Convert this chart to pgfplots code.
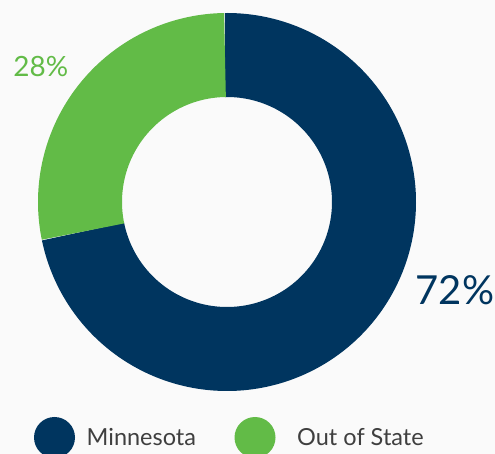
\documentclass[border=0pt]{standalone}
\usepackage{pgfplots}
\usepackage{pgfplotstable}
\pgfplotsset{compat=1.18}
\usepackage{fontspec}
\setmainfont{Lato}
\definecolor{navy}{HTML}{00355F}
\definecolor{leaf}{HTML}{62BB47}
\definecolor{txt}{HTML}{3F3F3F}
\definecolor{bg}{HTML}{FAFAFA}
\pgfplotstableread{
group value
Minnesota 72
OutOfState 28
}\sharetable
\pgfplotstablegetelem{0}{value}\of\sharetable \let\vA\pgfplotsretval
\pgfplotstablegetelem{1}{value}\of\sharetable \let\vB\pgfplotsretval
\begin{document}
\begin{tikzpicture}
\pgfmathsetmacro\aS{90.8}
\pgfmathsetmacro\aM{\aS-3.6*\vA}
\pgfmathsetmacro\aE{\aM-3.6*\vB}
\begin{axis}[
  scale only axis, width=495bp, height=454bp,
  xmin=-227, xmax=268, ymin=-252, ymax=202,
  axis line style={draw=none}, ticks=none,
  axis background/.style={fill=bg},
  legend columns=2,
  legend style={at={(axis cs:-193,-235.5)}, anchor=west, draw=none, fill=none,
    inner sep=0pt, outer sep=0pt, font=\fontsize{23.5bp}{28bp}\selectfont, text=txt,
    nodes={inner sep=0pt},
    /tikz/every odd column/.append style={column sep=11.7bp},
    /tikz/every even column/.append style={column sep=38.5bp}},
]
\addplot[draw=navy, line width=84bp, domain=\aS:\aM, samples=240, variable=\t,
  legend image code/.code={\fill[navy, draw=none, line width=0pt] (20.5bp,0bp) circle (20.5bp);}]
  ({147*cos(\t)},{147*sin(\t)});
\addlegendentry{Minnesota}
\addplot[draw=leaf, line width=84bp, domain=\aM:\aE, samples=120, variable=\t,
  legend image code/.code={\fill[leaf, draw=none, line width=0pt] (20.5bp,0bp) circle (20.5bp);}]
  ({147*cos(\t)},{147*sin(\t)});
\addlegendentry{\hspace{10bp}Out of State}
\node[anchor=base west, inner sep=0pt, text=leaf, font=\fontsize{27.9bp}{32bp}\selectfont]
  at (axis cs:-213.7,125.3) {28\%};
\node[anchor=base west, inner sep=0pt, text=navy, font=\fontsize{40bp}{46bp}\selectfont]
  at (axis cs:188.5,-103) {72\%};
\end{axis}
\pgfresetboundingbox
\useasboundingbox (current axis.south west) rectangle (current axis.north east);
\end{tikzpicture}
\end{document}
